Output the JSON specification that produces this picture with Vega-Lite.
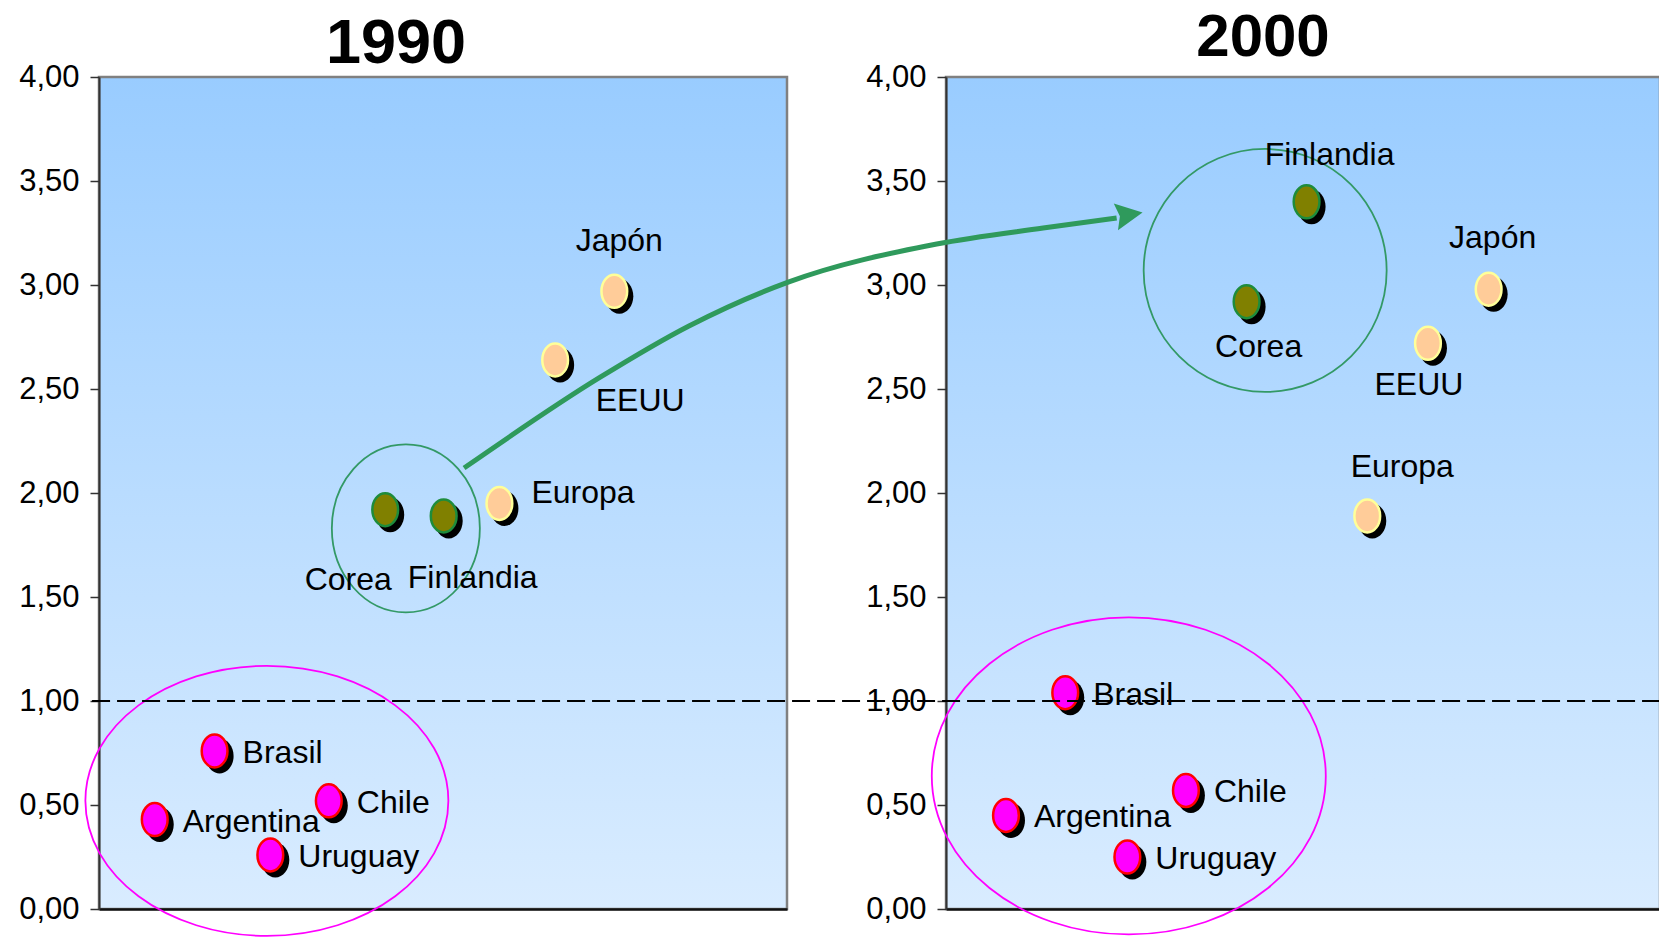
{
  "$schema": "https://vega.github.io/schema/vega-lite/v6.json",
  "padding": {"left": 17, "top": 6, "right": 0, "bottom": 0},
  "bounds": "flush",
  "spacing": 159,
  "config": {
    "font": "Liberation Sans, Arial, DejaVu Sans Condensed, sans-serif",
    "axisY": {"grid": false, "tickCount": 8, "labelExpr": "replace(format(datum.value, '.2f'), '.', ',')", "labelFontSize": 31, "labelColor": "#000000", "labelPadding": 11, "tickSize": 9, "tickColor": "#333333", "tickWidth": 1.5, "domainColor": "#333333", "domainWidth": 2},
    "axisX": {"grid": false, "labels": false, "ticks": false, "domainColor": "#111111", "domainWidth": 2.5}
  },
  "datasets": {
    "puntos": [
      {"anio": "1990", "pais": "Japón", "grupo": "Desarrollados", "x": 74.9, "y": 2.97},
      {"anio": "1990", "pais": "EEUU", "grupo": "Desarrollados", "x": 66.3, "y": 2.64},
      {"anio": "1990", "pais": "Europa", "grupo": "Desarrollados", "x": 58.2, "y": 1.95},
      {"anio": "1990", "pais": "Corea", "grupo": "Corea-Finlandia", "x": 41.6, "y": 1.92},
      {"anio": "1990", "pais": "Finlandia", "grupo": "Corea-Finlandia", "x": 50.1, "y": 1.89},
      {"anio": "1990", "pais": "Brasil", "grupo": "Latinoamérica", "x": 16.8, "y": 0.76},
      {"anio": "1990", "pais": "Chile", "grupo": "Latinoamérica", "x": 33.4, "y": 0.52},
      {"anio": "1990", "pais": "Argentina", "grupo": "Latinoamérica", "x": 8.1, "y": 0.43},
      {"anio": "1990", "pais": "Uruguay", "grupo": "Latinoamérica", "x": 24.9, "y": 0.26},
      {"anio": "2000", "pais": "Finlandia", "grupo": "Corea-Finlandia", "x": 50.5, "y": 3.40},
      {"anio": "2000", "pais": "Corea", "grupo": "Corea-Finlandia", "x": 42.1, "y": 2.92},
      {"anio": "2000", "pais": "Japón", "grupo": "Desarrollados", "x": 76.0, "y": 2.98},
      {"anio": "2000", "pais": "EEUU", "grupo": "Desarrollados", "x": 67.5, "y": 2.72},
      {"anio": "2000", "pais": "Europa", "grupo": "Desarrollados", "x": 59.0, "y": 1.89},
      {"anio": "2000", "pais": "Brasil", "grupo": "Latinoamérica", "x": 16.7, "y": 1.04},
      {"anio": "2000", "pais": "Chile", "grupo": "Latinoamérica", "x": 33.6, "y": 0.57},
      {"anio": "2000", "pais": "Argentina", "grupo": "Latinoamérica", "x": 8.4, "y": 0.45},
      {"anio": "2000", "pais": "Uruguay", "grupo": "Latinoamérica", "x": 25.4, "y": 0.25}
    ],
    "grupos": [
      {"anio": "1990", "grupo": "Corea-Finlandia", "x": 44.6, "y": 1.83},
      {"anio": "1990", "grupo": "Latinoamérica", "x": 24.4, "y": 0.52},
      {"anio": "2000", "grupo": "Corea-Finlandia", "x": 44.7, "y": 3.07},
      {"anio": "2000", "grupo": "Latinoamérica", "x": 25.6, "y": 0.64}
    ],
    "flecha": [
      {"x": -67.5, "y": 2.12},
      {"x": -48.6, "y": 2.553},
      {"x": -36.0, "y": 2.803},
      {"x": -22.1, "y": 3.014},
      {"x": -1.3, "y": 3.197},
      {"x": 13.6, "y": 3.274},
      {"x": 23.9, "y": 3.322}
    ],
    "punta": [
      {"x": 25.66, "y": 3.338}
    ]
  },
  "hconcat": [
    {
      "width": 688,
      "height": 832,
      "title": {"text": "1990", "font": "Liberation Sans, Arial, sans-serif", "fontSize": 63, "fontWeight": "bold", "anchor": "middle", "frame": "group", "dx": -47, "baseline": "alphabetic", "offset": -65, "color": "#000000"},
      "view": {"fill": {"gradient": "linear", "x1": 0, "y1": 0, "x2": 0, "y2": 1, "stops": [{"offset": 0, "color": "#99CCFF"}, {"offset": 1, "color": "#D9ECFF"}]}, "stroke": "#808080", "strokeWidth": 2.5},
      "layer": [
        {
          "data": {"name": "grupos"},
          "transform": [{"filter": "datum.anio == '1990' && datum.grupo == 'Corea-Finlandia'"}],
          "mark": {"type": "point", "shape": "M 0.881 0 C 0.881 0.5523 0.4866 1 0 1 C -0.4866 1 -0.881 0.5523 -0.881 0 C -0.881 -0.5523 -0.4866 -1 0 -1 C 0.4866 -1 0.881 -0.5523 0.881 0 Z", "size": 28224, "filled": false, "stroke": "#339966", "strokeWidth": 1.8, "opacity": 1},
          "encoding": {
            "x": {"field": "x", "type": "quantitative", "scale": {"domain": [0, 100]}, "title": null},
            "y": {"field": "y", "type": "quantitative", "scale": {"domain": [0, 4]}, "title": null}
          }
        },
        {
          "data": {"name": "grupos"},
          "transform": [{"filter": "datum.anio == '1990' && datum.grupo == 'Latinoamérica'"}],
          "mark": {"type": "point", "shape": "M 1 0 C 1 0.4109 0.5523 0.744 0 0.744 C -0.5523 0.744 -1 0.4109 -1 0 C -1 -0.4109 -0.5523 -0.744 0 -0.744 C 0.5523 -0.744 1 -0.4109 1 0 Z", "size": 131769, "filled": false, "stroke": "#FF00FF", "strokeWidth": 1.8, "opacity": 1},
          "encoding": {
            "x": {"field": "x", "type": "quantitative", "scale": {"domain": [0, 100]}, "title": null},
            "y": {"field": "y", "type": "quantitative", "scale": {"domain": [0, 4]}, "title": null}
          }
        },
        {
          "data": {"name": "puntos"},
          "transform": [{"filter": "datum.anio == '1990'"}],
          "mark": {"type": "point", "shape": "M 0.8 0 C 0.8 0.5523 0.4418 1 0 1 C -0.4418 1 -0.8 0.5523 -0.8 0 C -0.8 -0.5523 -0.4418 -1 0 -1 C 0.4418 -1 0.8 -0.5523 0.8 0 Z", "size": 1225, "filled": true, "fill": "#000000", "strokeWidth": 0, "opacity": 1, "xOffset": 5, "yOffset": 5},
          "encoding": {
            "x": {"field": "x", "type": "quantitative", "scale": {"domain": [0, 100]}, "title": null},
            "y": {"field": "y", "type": "quantitative", "scale": {"domain": [0, 4]}, "title": null}
          }
        },
        {
          "data": {"name": "puntos"},
          "transform": [{"filter": "datum.anio == '1990'"}],
          "mark": {"type": "point", "shape": "M 0.78 0 C 0.78 0.5523 0.4308 1 0 1 C -0.4308 1 -0.78 0.5523 -0.78 0 C -0.78 -0.5523 -0.4308 -1 0 -1 C 0.4308 -1 0.78 -0.5523 0.78 0 Z", "size": 1089, "filled": true, "strokeWidth": 2.5, "opacity": 1, "fillOpacity": 1},
          "encoding": {
            "x": {"field": "x", "type": "quantitative", "scale": {"domain": [0, 100]}, "title": null},
            "y": {"field": "y", "type": "quantitative", "scale": {"domain": [0, 4]}, "title": null},
            "fill": {"field": "grupo", "type": "nominal", "scale": {"domain": ["Desarrollados", "Corea-Finlandia", "Latinoamérica"], "range": ["#FFCC99", "#808000", "#FF00FF"]}, "legend": null},
            "stroke": {"field": "grupo", "type": "nominal", "scale": {"domain": ["Desarrollados", "Corea-Finlandia", "Latinoamérica"], "range": ["#FFFF99", "#1E8C3C", "#FF0000"]}, "legend": null}
          }
        },
        {
          "data": {"name": "puntos"},
          "transform": [{"filter": "datum.anio == '1990' && indexof(['Brasil', 'Chile', 'Argentina', 'Uruguay'], datum.pais) >= 0"}],
          "mark": {"type": "text", "align": "left", "baseline": "alphabetic", "dx": 28, "dy": 12, "fontSize": 32, "color": "#000000"},
          "encoding": {
            "x": {"field": "x", "type": "quantitative", "scale": {"domain": [0, 100]}, "title": null},
            "y": {"field": "y", "type": "quantitative", "scale": {"domain": [0, 4]}, "title": null},
            "text": {"field": "pais"}
          }
        },
        {
          "data": {"name": "puntos"},
          "transform": [{"filter": "datum.anio == '1990' && datum.pais == 'Europa'"}],
          "mark": {"type": "text", "align": "left", "baseline": "alphabetic", "dx": 32, "dy": 0, "fontSize": 32, "color": "#000000"},
          "encoding": {
            "x": {"field": "x", "type": "quantitative", "scale": {"domain": [0, 100]}, "title": null},
            "y": {"field": "y", "type": "quantitative", "scale": {"domain": [0, 4]}, "title": null},
            "text": {"field": "pais"}
          }
        },
        {
          "data": {"name": "puntos"},
          "transform": [{"filter": "datum.anio == '1990' && datum.pais == 'Japón'"}],
          "mark": {"type": "text", "align": "center", "baseline": "alphabetic", "dx": 5, "dy": -40, "fontSize": 32, "color": "#000000"},
          "encoding": {
            "x": {"field": "x", "type": "quantitative", "scale": {"domain": [0, 100]}, "title": null},
            "y": {"field": "y", "type": "quantitative", "scale": {"domain": [0, 4]}, "title": null},
            "text": {"field": "pais"}
          }
        },
        {
          "data": {"name": "puntos"},
          "transform": [{"filter": "datum.anio == '1990' && datum.pais == 'EEUU'"}],
          "mark": {"type": "text", "align": "center", "baseline": "alphabetic", "dx": 85, "dy": 51, "fontSize": 32, "color": "#000000"},
          "encoding": {
            "x": {"field": "x", "type": "quantitative", "scale": {"domain": [0, 100]}, "title": null},
            "y": {"field": "y", "type": "quantitative", "scale": {"domain": [0, 4]}, "title": null},
            "text": {"field": "pais"}
          }
        },
        {
          "data": {"name": "puntos"},
          "transform": [{"filter": "datum.anio == '1990' && datum.pais == 'Corea'"}],
          "mark": {"type": "text", "align": "center", "baseline": "alphabetic", "dx": -37, "dy": 80, "fontSize": 32, "color": "#000000"},
          "encoding": {
            "x": {"field": "x", "type": "quantitative", "scale": {"domain": [0, 100]}, "title": null},
            "y": {"field": "y", "type": "quantitative", "scale": {"domain": [0, 4]}, "title": null},
            "text": {"field": "pais"}
          }
        },
        {
          "data": {"name": "puntos"},
          "transform": [{"filter": "datum.anio == '1990' && datum.pais == 'Finlandia'"}],
          "mark": {"type": "text", "align": "center", "baseline": "alphabetic", "dx": 29, "dy": 72, "fontSize": 32, "color": "#000000"},
          "encoding": {
            "x": {"field": "x", "type": "quantitative", "scale": {"domain": [0, 100]}, "title": null},
            "y": {"field": "y", "type": "quantitative", "scale": {"domain": [0, 4]}, "title": null},
            "text": {"field": "pais"}
          }
        }
      ]
    },
    {
      "width": 714,
      "height": 832,
      "title": {"text": "2000", "font": "Liberation Sans, Arial, sans-serif", "fontSize": 60, "fontWeight": "bold", "anchor": "middle", "frame": "group", "dx": -40, "baseline": "alphabetic", "offset": -55, "color": "#000000"},
      "view": {"fill": {"gradient": "linear", "x1": 0, "y1": 0, "x2": 0, "y2": 1, "stops": [{"offset": 0, "color": "#99CCFF"}, {"offset": 1, "color": "#D9ECFF"}]}, "stroke": "#808080", "strokeWidth": 2.5},
      "layer": [
        {
          "data": {"name": "grupos"},
          "transform": [{"filter": "datum.anio == '2000' && datum.grupo == 'Corea-Finlandia'"}],
          "mark": {"type": "point", "shape": "M 1 0 C 1 0.5523 0.5523 1 0 1 C -0.5523 1 -1 0.5523 -1 0 C -1 -0.5523 -0.5523 -1 0 -1 C 0.5523 -1 1 -0.5523 1 0 Z", "size": 59049, "filled": false, "stroke": "#339966", "strokeWidth": 1.8, "opacity": 1},
          "encoding": {
            "x": {"field": "x", "type": "quantitative", "scale": {"domain": [0, 100]}, "title": null},
            "y": {"field": "y", "type": "quantitative", "scale": {"domain": [0, 4]}, "title": null}
          }
        },
        {
          "data": {"name": "grupos"},
          "transform": [{"filter": "datum.anio == '2000' && datum.grupo == 'Latinoamérica'"}],
          "mark": {"type": "point", "shape": "M 1 0 C 1 0.4446 0.5523 0.805 0 0.805 C -0.5523 0.805 -1 0.4446 -1 0 C -1 -0.4446 -0.5523 -0.805 0 -0.805 C 0.5523 -0.805 1 -0.4446 1 0 Z", "size": 155236, "filled": false, "stroke": "#FF00FF", "strokeWidth": 1.8, "opacity": 1},
          "encoding": {
            "x": {"field": "x", "type": "quantitative", "scale": {"domain": [0, 100]}, "title": null},
            "y": {"field": "y", "type": "quantitative", "scale": {"domain": [0, 4]}, "title": null}
          }
        },
        {
          "data": {"name": "puntos"},
          "transform": [{"filter": "datum.anio == '2000'"}],
          "mark": {"type": "point", "shape": "M 0.8 0 C 0.8 0.5523 0.4418 1 0 1 C -0.4418 1 -0.8 0.5523 -0.8 0 C -0.8 -0.5523 -0.4418 -1 0 -1 C 0.4418 -1 0.8 -0.5523 0.8 0 Z", "size": 1225, "filled": true, "fill": "#000000", "strokeWidth": 0, "opacity": 1, "xOffset": 5, "yOffset": 5},
          "encoding": {
            "x": {"field": "x", "type": "quantitative", "scale": {"domain": [0, 100]}, "title": null},
            "y": {"field": "y", "type": "quantitative", "scale": {"domain": [0, 4]}, "title": null}
          }
        },
        {
          "data": {"name": "puntos"},
          "transform": [{"filter": "datum.anio == '2000'"}],
          "mark": {"type": "point", "shape": "M 0.78 0 C 0.78 0.5523 0.4308 1 0 1 C -0.4308 1 -0.78 0.5523 -0.78 0 C -0.78 -0.5523 -0.4308 -1 0 -1 C 0.4308 -1 0.78 -0.5523 0.78 0 Z", "size": 1089, "filled": true, "strokeWidth": 2.5, "opacity": 1, "fillOpacity": 1},
          "encoding": {
            "x": {"field": "x", "type": "quantitative", "scale": {"domain": [0, 100]}, "title": null},
            "y": {"field": "y", "type": "quantitative", "scale": {"domain": [0, 4]}, "title": null},
            "fill": {"field": "grupo", "type": "nominal", "scale": {"domain": ["Desarrollados", "Corea-Finlandia", "Latinoamérica"], "range": ["#FFCC99", "#808000", "#FF00FF"]}, "legend": null},
            "stroke": {"field": "grupo", "type": "nominal", "scale": {"domain": ["Desarrollados", "Corea-Finlandia", "Latinoamérica"], "range": ["#FFFF99", "#0A8A1E", "#FF0000"]}, "legend": null}
          }
        },
        {
          "data": {"name": "puntos"},
          "transform": [{"filter": "datum.anio == '2000' && indexof(['Brasil', 'Chile', 'Argentina', 'Uruguay'], datum.pais) >= 0"}],
          "mark": {"type": "text", "align": "left", "baseline": "alphabetic", "dx": 28, "dy": 12, "fontSize": 32, "color": "#000000"},
          "encoding": {
            "x": {"field": "x", "type": "quantitative", "scale": {"domain": [0, 100]}, "title": null},
            "y": {"field": "y", "type": "quantitative", "scale": {"domain": [0, 4]}, "title": null},
            "text": {"field": "pais"}
          }
        },
        {
          "data": {"name": "puntos"},
          "transform": [{"filter": "datum.anio == '2000' && datum.pais == 'Finlandia'"}],
          "mark": {"type": "text", "align": "center", "baseline": "alphabetic", "dx": 23, "dy": -37, "fontSize": 32, "color": "#000000"},
          "encoding": {
            "x": {"field": "x", "type": "quantitative", "scale": {"domain": [0, 100]}, "title": null},
            "y": {"field": "y", "type": "quantitative", "scale": {"domain": [0, 4]}, "title": null},
            "text": {"field": "pais"}
          }
        },
        {
          "data": {"name": "puntos"},
          "transform": [{"filter": "datum.anio == '2000' && datum.pais == 'Corea'"}],
          "mark": {"type": "text", "align": "center", "baseline": "alphabetic", "dx": 12, "dy": 55, "fontSize": 32, "color": "#000000"},
          "encoding": {
            "x": {"field": "x", "type": "quantitative", "scale": {"domain": [0, 100]}, "title": null},
            "y": {"field": "y", "type": "quantitative", "scale": {"domain": [0, 4]}, "title": null},
            "text": {"field": "pais"}
          }
        },
        {
          "data": {"name": "puntos"},
          "transform": [{"filter": "datum.anio == '2000' && datum.pais == 'Japón'"}],
          "mark": {"type": "text", "align": "center", "baseline": "alphabetic", "dx": 4, "dy": -41, "fontSize": 32, "color": "#000000"},
          "encoding": {
            "x": {"field": "x", "type": "quantitative", "scale": {"domain": [0, 100]}, "title": null},
            "y": {"field": "y", "type": "quantitative", "scale": {"domain": [0, 4]}, "title": null},
            "text": {"field": "pais"}
          }
        },
        {
          "data": {"name": "puntos"},
          "transform": [{"filter": "datum.anio == '2000' && datum.pais == 'EEUU'"}],
          "mark": {"type": "text", "align": "center", "baseline": "alphabetic", "dx": -9, "dy": 52, "fontSize": 32, "color": "#000000"},
          "encoding": {
            "x": {"field": "x", "type": "quantitative", "scale": {"domain": [0, 100]}, "title": null},
            "y": {"field": "y", "type": "quantitative", "scale": {"domain": [0, 4]}, "title": null},
            "text": {"field": "pais"}
          }
        },
        {
          "data": {"name": "puntos"},
          "transform": [{"filter": "datum.anio == '2000' && datum.pais == 'Europa'"}],
          "mark": {"type": "text", "align": "center", "baseline": "alphabetic", "dx": 35, "dy": -39, "fontSize": 32, "color": "#000000"},
          "encoding": {
            "x": {"field": "x", "type": "quantitative", "scale": {"domain": [0, 100]}, "title": null},
            "y": {"field": "y", "type": "quantitative", "scale": {"domain": [0, 4]}, "title": null},
            "text": {"field": "pais"}
          }
        },
        {
          "data": {"values": [{}]},
          "mark": {"type": "rule", "color": "#000000", "strokeWidth": 2.2, "strokeDash": [18, 7]},
          "encoding": {
            "x": {"datum": -119.6, "type": "quantitative", "scale": {"domain": [0, 100]}},
            "x2": {"datum": 100},
            "y": {"datum": 1, "type": "quantitative", "scale": {"domain": [0, 4]}}
          }
        },
        {
          "data": {"name": "flecha"},
          "mark": {"type": "line", "color": "#2F9A5C", "strokeWidth": 5, "interpolate": "monotone", "strokeCap": "butt"},
          "encoding": {
            "x": {"field": "x", "type": "quantitative", "scale": {"domain": [0, 100]}, "title": null},
            "y": {"field": "y", "type": "quantitative", "scale": {"domain": [0, 4]}, "title": null}
          }
        },
        {
          "data": {"name": "punta"},
          "mark": {"type": "point", "shape": "M 1 0 L -1 -1 L -0.7 0 L -1 1 Z", "size": 729, "angle": -9, "filled": true, "fill": "#2F9A5C", "strokeWidth": 0, "opacity": 1},
          "encoding": {
            "x": {"field": "x", "type": "quantitative", "scale": {"domain": [0, 100]}, "title": null},
            "y": {"field": "y", "type": "quantitative", "scale": {"domain": [0, 4]}, "title": null}
          }
        }
      ]
    }
  ]
}
